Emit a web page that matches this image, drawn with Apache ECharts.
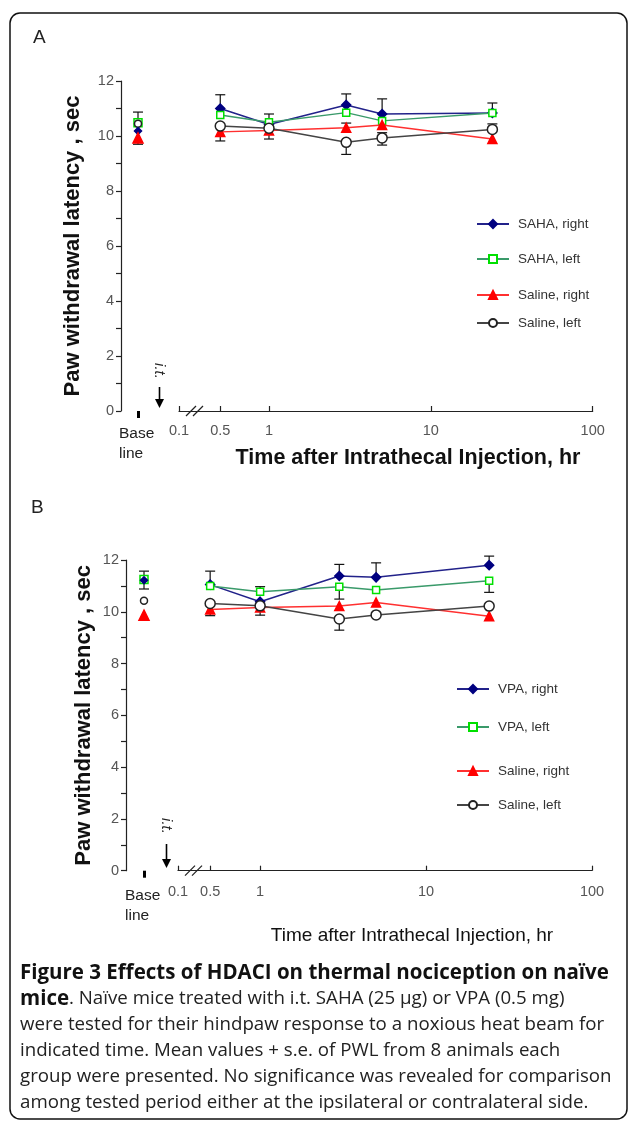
<!DOCTYPE html>
<html><head><meta charset="utf-8">
<script src="https://cdn.jsdelivr.net/npm/echarts@6/dist/echarts.min.js"></script>
<style>html,body{margin:0;padding:0;background:#fff}#c{width:629px;height:1121px}</style>
</head><body><div id="c"></div>
<script>
// ---------- data (first element of each value array = Baseline; then timesHr) ----------
const timesHr = [0.5, 1, 3, 5, 24];
const baselineCategory = ['Base\nline'];
const xTickLabels = ['0.1', '0.5', '1', '10', '100'];
const xTickValues = [0.5, 1, 10, 100]; // ticks after the axis break
const yTickLabelsEvery = 2;

const namesA = ['SAHA, right', 'SAHA, left', 'Saline, right', 'Saline, left'];
const A_sahaRight   = [10.18, 11.00, 10.42, 11.13, 10.80, 10.84];
const A_sahaLeft    = [10.48, 10.76, 10.50, 10.85, 10.55, 10.84];
const A_salineRight = [9.93, 10.15, 10.20, 10.30, 10.40, 9.89];
const A_salineLeft  = [10.45, 10.36, 10.28, 9.77, 9.93, 10.24];
const A_sahaRightErrUp   = [0, 0.50, 0, 0.40, 0.55, 0.36];
const A_sahaRightErrDn   = [0, 0, 0, 0, 0, 0];
const A_sahaLeftErrUp    = [0.39, 0, 0.30, 0, 0, 0];
const A_sahaLeftErrDn    = [0, 0, 0, 0, 0, 0];
const A_salineRightErrUp = [0, 0, 0, 0.17, 0, 0];
const A_salineRightErrDn = [0.23, 0.33, 0.31, 0, 0, 0];
const A_salineLeftErrUp  = [0, 0, 0, 0, 0.19, 0.20];
const A_salineLeftErrDn  = [0, 0, 0, 0.44, 0.26, 0];

const namesB = ['VPA, right', 'VPA, left', 'Saline, right', 'Saline, left'];
const B_vpaRight    = [11.22, 11.05, 10.39, 11.38, 11.33, 11.80];
const B_vpaLeft     = [11.25, 11.00, 10.77, 10.97, 10.84, 11.20];
const B_salineRight = [9.87, 10.09, 10.17, 10.22, 10.36, 9.83];
const B_salineLeft  = [10.43, 10.32, 10.23, 9.72, 9.88, 10.22];
const B_vpaRightErrUp    = [0.35, 0.52, 0, 0.45, 0.56, 0.35];
const B_vpaRightErrDn    = [0, 0, 0, 0, 0, 0];
const B_vpaLeftErrUp     = [0, 0, 0.20, 0, 0, 0];
const B_vpaLeftErrDn     = [0.37, 0, 0, 0.48, 0, 0.45];
const B_salineRightErrUp = [0, 0, 0, 0, 0, 0];
const B_salineRightErrDn = [0.20, 0.24, 0.30, 0, 0, 0];
const B_salineLeftErrUp  = [0, 0, 0, 0, 0, 0];
const B_salineLeftErrDn  = [0, 0, 0, 0.43, 0, 0];

// ---------- styles ----------
const FONT = 'Liberation Sans, Arial, sans-serif';
const styles = [
  {symbol: 'diamond', symbolSize: 9, baseSize: 7, baseZ: 5, fill: '#000080', border: '#000080', line: '#22228a'},
  {symbol: 'rect', symbolSize: 7, baseSize: 8, baseZ: 3, fill: '#ffffff', border: '#00e000', line: '#3a9a6a'},
  {symbol: 'triangle', symbolSize: 9, baseSize: 10, baseZ: 6, fill: '#ff0000', border: '#ff0000', line: '#ff3030'},
  {symbol: 'circle', symbolSize: 10, baseSize: 7, baseZ: 4, fill: '#ffffff', border: '#222222', line: '#444444'}
];

const panels = [
  {
    names: namesA,
    vals: [A_sahaRight, A_sahaLeft, A_salineRight, A_salineLeft],
    up: [A_sahaRightErrUp, A_sahaLeftErrUp, A_salineRightErrUp, A_salineLeftErrUp],
    dn: [A_sahaRightErrDn, A_sahaLeftErrDn, A_salineRightErrDn, A_salineLeftErrDn],
    yAxisX: 121, baseRight: 155, logLeft: 179, logRight: 592.7, top: 81, bottom: 411,
    logMin: 0.278, nameGap: 37, labelMargin: 13,
    legendX: 476, legendY: [222, 257, 293, 321],
    arrowX: 159.5, arrowTop: 387, arrowTip: 408, itY: 371,
    title: {x: 408, y: 458, size: 21.5, weight: 'bold'},
    letter: {x: 33, y: 28, t: 'A'}
  },
  {
    names: namesB,
    vals: [B_vpaRight, B_vpaLeft, B_salineRight, B_salineLeft],
    up: [B_vpaRightErrUp, B_vpaLeftErrUp, B_salineRightErrUp, B_salineLeftErrUp],
    dn: [B_vpaRightErrDn, B_vpaLeftErrDn, B_salineRightErrDn, B_salineLeftErrDn],
    yAxisX: 126, baseRight: 162, logLeft: 178, logRight: 592, top: 560, bottom: 870.7,
    logMin: 0.32, nameGap: 31, labelMargin: 15,
    legendX: 456, legendY: [687, 725, 769, 803],
    arrowX: 166.5, arrowTop: 844, arrowTip: 868, itY: 826,
    title: {x: 412, y: 936, size: 19, weight: 'normal'},
    letter: {x: 31, y: 498, t: 'B'}
  }
];

const grid = [], xAxis = [], yAxis = [], series = [], legend = [], graphic = [];

function errRender(params, api) {
  const x = api.value(0), y = api.value(1), up = api.value(2), dn = api.value(3);
  const c = api.coord([x, y]);
  const kids = [];
  const cap = 5;
  const ls = {stroke: '#111', lineWidth: 1.2};
  if (up > 0) {
    const t = api.coord([x, y + up]);
    kids.push({type: 'line', shape: {x1: c[0], y1: c[1], x2: t[0], y2: t[1]}, style: ls});
    kids.push({type: 'line', shape: {x1: t[0] - cap, y1: t[1], x2: t[0] + cap, y2: t[1]}, style: ls});
  }
  if (dn > 0) {
    const b = api.coord([x, y - dn]);
    kids.push({type: 'line', shape: {x1: c[0], y1: c[1], x2: b[0], y2: b[1]}, style: ls});
    kids.push({type: 'line', shape: {x1: b[0] - cap, y1: b[1], x2: b[0] + cap, y2: b[1]}, style: ls});
  }
  return {type: 'group', children: kids};
}

panels.forEach((p, pi) => {
  const g0 = grid.length, g1 = g0 + 1;
  const h = p.bottom - p.top;
  grid.push({left: p.yAxisX, top: p.top, width: p.baseRight - p.yAxisX, height: h});
  grid.push({left: p.logLeft, top: p.top, width: p.logRight - p.logLeft, height: h});
  const tickVals = [p.logMin].concat(xTickValues);
  xAxis.push({
    type: 'category', gridIndex: g0, data: baselineCategory, boundaryGap: true,
    axisLine: {show: false},
    axisTick: {show: true, alignWithLabel: true, length: 7, lineStyle: {width: 3, color: '#000'}},
    axisLabel: {
      margin: p.labelMargin, color: '#222', fontSize: 15.5, fontFamily: FONT,
      formatter: v => v.split('\n').map(s => '{a|' + s + '}').join('\n'),
      rich: {a: {width: 38, align: 'left', fontSize: 15.5, fontFamily: FONT, color: '#222', lineHeight: 20}}
    }
  });
  xAxis.push({
    type: 'log', logBase: 10, gridIndex: g1, min: p.logMin, max: 100,
    axisLine: {show: true, lineStyle: {color: '#222', width: 1.2}},
    axisTick: {show: true, inside: true, length: 5, customValues: tickVals, lineStyle: {color: '#222', width: 1.2}},
    axisLabel: {
      show: true, customValues: tickVals, margin: p.labelMargin - 1, color: '#555', fontSize: 14.5, fontFamily: FONT,
      formatter: v => {
        let bi = 0, bd = Infinity;
        tickVals.forEach((t, i) => { const d = Math.abs(Math.log10(t) - Math.log10(v)); if (d < bd) { bd = d; bi = i; } });
        return xTickLabels[bi];
      }
    },
    splitLine: {show: false}, minorTick: {show: false}
  });
  yAxis.push({
    type: 'value', gridIndex: g0, min: 0, max: 12, interval: 1,
    name: 'Paw withdrawal latency , sec', nameLocation: 'middle', nameGap: p.nameGap,
    nameTextStyle: {fontSize: 22, fontWeight: 'bold', color: '#111', fontFamily: FONT},
    axisLine: {show: true, lineStyle: {color: '#222', width: 1.2}},
    axisTick: {show: true, inside: false, length: 5, lineStyle: {color: '#222', width: 1.2}},
    axisLabel: {color: '#555', fontSize: 14.5, fontFamily: FONT, margin: 7,
      formatter: v => (v % yTickLabelsEvery === 0 ? String(v) : '')},
    splitLine: {show: false}
  });
  yAxis.push({type: 'value', gridIndex: g1, min: 0, max: 12, interval: 1, show: false, splitLine: {show: false}});

  const xi0 = pi * 2, xi1 = pi * 2 + 1;
  // line series (time course)
  p.names.forEach((nm, si) => {
    const st = styles[si];
    const v = p.vals[si];
    series.push({
      type: 'line', name: nm, xAxisIndex: xi1, yAxisIndex: xi1,
      data: timesHr.map((t, i) => [t, v[i + 1]]),
      symbol: st.symbol, symbolSize: st.symbolSize, showAllSymbol: true,
      lineStyle: {color: st.line, width: 1.5},
      itemStyle: {color: st.fill, borderColor: st.border, borderWidth: 1.5},
      z: 3 + si, animation: false
    });
  });
  // baseline points
  p.names.forEach((nm, si) => {
    const st = styles[si];
    series.push({
      type: 'line', name: nm, xAxisIndex: xi0, yAxisIndex: xi0,
      data: [p.vals[si][0]],
      symbol: st.symbol, symbolSize: st.baseSize,
      lineStyle: {color: st.line, width: 1.5},
      itemStyle: {color: st.fill, borderColor: st.border, borderWidth: 1.5},
      z: st.baseZ, animation: false
    });
  });
  // error bars
  p.names.forEach((nm, si) => {
    const v = p.vals[si], up = p.up[si], dn = p.dn[si];
    series.push({
      type: 'custom', xAxisIndex: xi1, yAxisIndex: xi1, renderItem: errRender, z: 2,
      encode: {x: 0, y: 1}, silent: true, animation: false,
      data: timesHr.map((t, i) => [t, v[i + 1], up[i + 1], dn[i + 1]])
    });
    series.push({
      type: 'custom', xAxisIndex: xi0, yAxisIndex: xi0, renderItem: errRender, z: 2,
      encode: {x: 0, y: 1}, silent: true, animation: false,
      data: [[0, v[0], up[0], dn[0]]]
    });
  });
  // legends (one per row, uneven spacing as in the original)
  p.names.forEach((nm, si) => {
    legend.push({
      data: [nm], left: p.legendX, top: p.legendY[si] - 5, itemWidth: 32, itemHeight: 10, itemGap: 0,
      selectedMode: false, padding: 0,
      textStyle: {fontSize: 13.5, color: '#333', fontFamily: FONT, padding: [0, 0, 0, 4]}
    });
  });
  // decorations: axis break, injection arrow, titles
  const y0 = p.bottom, bx = p.logLeft + 7;
  graphic.push({type: 'line', shape: {x1: bx, y1: y0 + 5, x2: bx + 10, y2: y0 - 5}, style: {stroke: '#222', lineWidth: 1.2}});
  graphic.push({type: 'line', shape: {x1: bx + 7, y1: y0 + 5, x2: bx + 17, y2: y0 - 5}, style: {stroke: '#222', lineWidth: 1.2}});
  graphic.push({type: 'line', shape: {x1: p.arrowX, y1: p.arrowTop, x2: p.arrowX, y2: p.arrowTip - 6}, style: {stroke: '#000', lineWidth: 1.6}});
  graphic.push({type: 'polygon', shape: {points: [[p.arrowX - 4.5, p.arrowTip - 9], [p.arrowX + 4.5, p.arrowTip - 9], [p.arrowX, p.arrowTip]]}, style: {fill: '#000'}});
  graphic.push({type: 'text', x: p.arrowX, y: p.itY, rotation: -Math.PI / 2,
    style: {text: 'i.t.', fontSize: 15, fontStyle: 'italic', fontFamily: FONT, fill: '#222', align: 'center', verticalAlign: 'middle'}});
  graphic.push({type: 'text', x: p.title.x, y: p.title.y,
    style: {text: 'Time after Intrathecal Injection, hr', fontSize: p.title.size, fontWeight: p.title.weight,
      fontFamily: FONT, fill: '#111', align: 'center', verticalAlign: 'middle'}});
  graphic.push({type: 'text', x: p.letter.x, y: p.letter.y,
    style: {text: p.letter.t, fontSize: 19, fontFamily: FONT, fill: '#222'}});
});

// frame
graphic.push({type: 'rect', shape: {x: 10, y: 13, width: 617, height: 1106, r: 10},
  style: {fill: 'none', stroke: '#111', lineWidth: 1.5}, z: -1});

// caption
const captionLines = [
  '{b|Figure 3 Effects of HDACI on thermal nociception on naïve}',
  '{b|mice}{r|. Naïve mice treated with i.t. SAHA (25 μg) or VPA (0.5 mg)}',
  '{r|were tested for their hindpaw response to a noxious heat beam for}',
  '{r|indicated time. Mean values + s.e. of PWL from 8 animals each}',
  '{r|group were presented. No significance was revealed for comparison}',
  '{r|among tested period either at the ipsilateral or contralateral side.}'
];
graphic.push({type: 'text', x: 20, y: 960,
  style: {text: captionLines.join('\n'), fill: '#222',
    rich: {
      b: {fontSize: 20.5, fontWeight: 'bold', fontFamily: 'Open Sans, sans-serif', lineHeight: 26, fill: '#111'},
      r: {fontSize: 18.7, fontFamily: 'Open Sans, sans-serif', lineHeight: 26, fill: '#222'}
    }}});

const chart = echarts.init(document.getElementById('c'), null, {renderer: 'canvas'});
chart.setOption({animation: false, backgroundColor: '#fff', grid, xAxis, yAxis, series, legend, graphic});
</script></body></html>
